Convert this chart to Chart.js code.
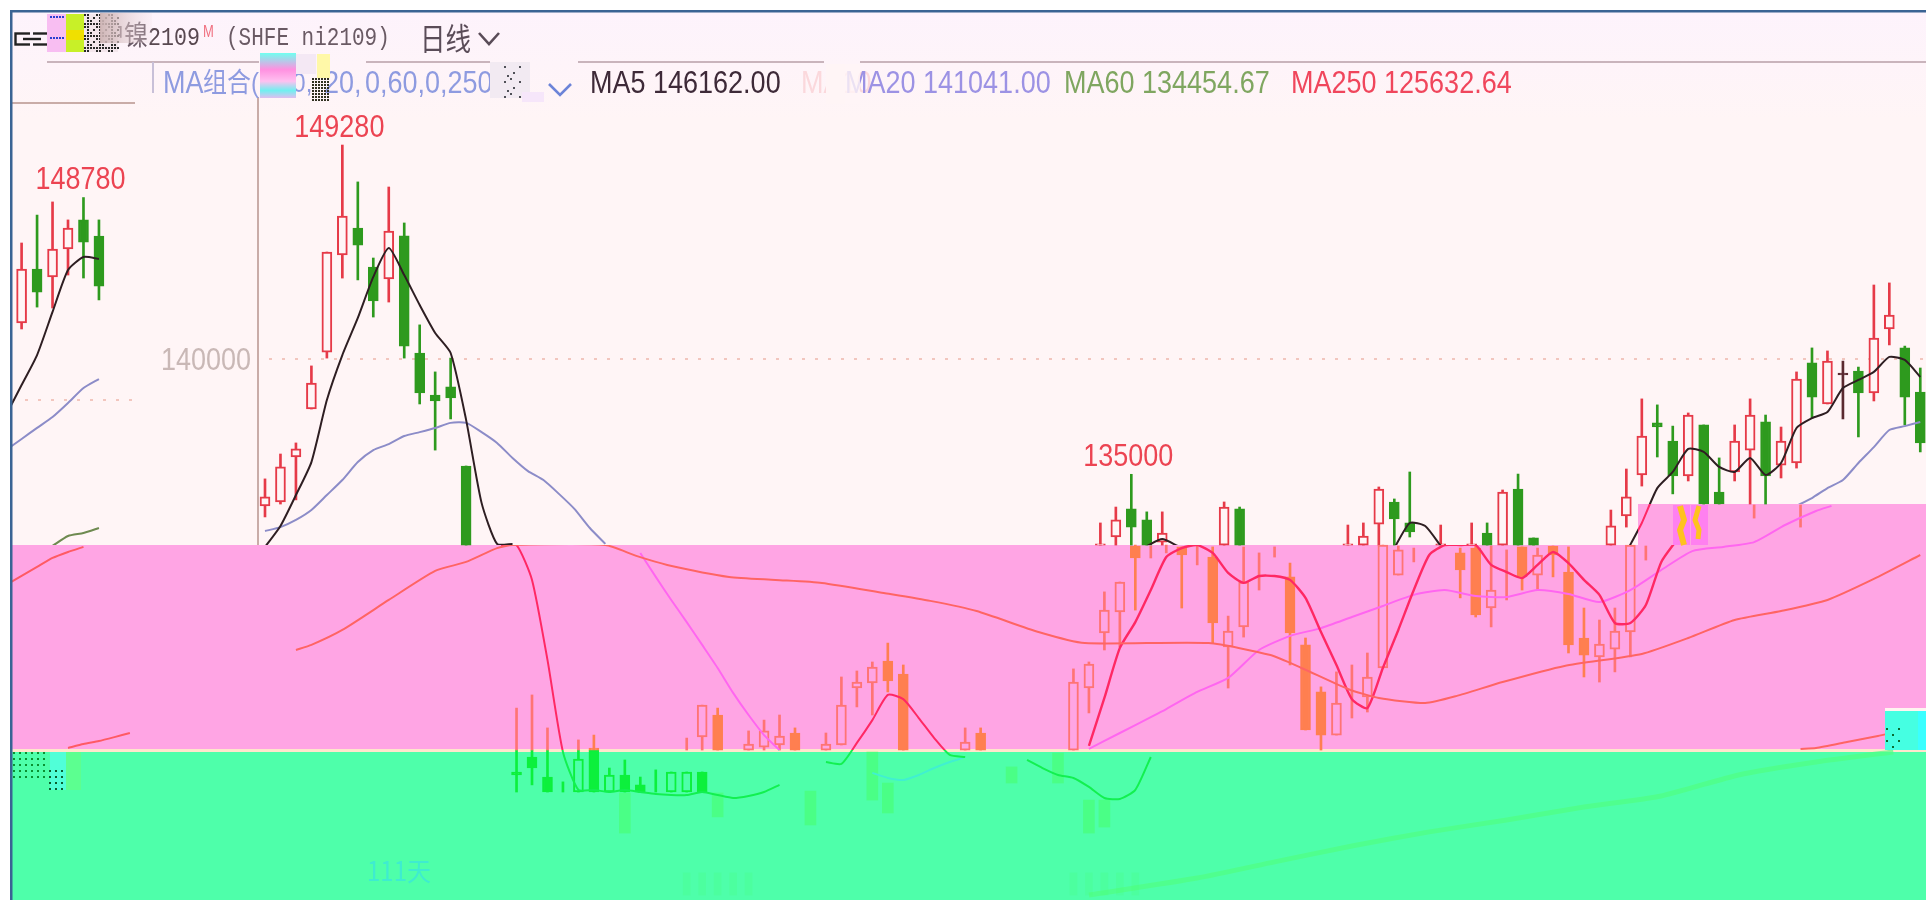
<!DOCTYPE html>
<html lang="zh"><head><meta charset="utf-8">
<style>html,body{margin:0;padding:0;background:#fff;overflow:hidden}canvas{display:block;filter:blur(.65px)}</style>
<script src="https://cdn.jsdelivr.net/npm/chart.js@4"></script>
</head><body><canvas id="c" width="1926" height="900"></canvas>
<script>
// ---------- candles in the upper price band (day slot, open, close, high, low)
const topSlots=[0,1,2,3,4,5,6,7,8,9,10,11,12,13,54,55,56,57,58,62,63,70,71,72,73,74,76,78,79,80,81,82,87,88,89,90,91,92,93,94,95,96,97,98,99,100,101,102,103,104,105,106,107];
const topOpen=[133630,133800,135750,137830,140300,144510,145680,143990,143470,145340,140260,138440,138790,135360,131930,132280,133500,133020,132060,131930,133500,131930,131930,132840,133800,132890,131930,131930,132450,131930,134360,132240,131930,133190,134970,137230,136440,134930,137140,134230,135100,136050,137270,135400,135490,139830,138050,139350,139480,138530,141300,140480,138570];
const topClose=[134020,135320,136100,138960,144640,146200,144940,142520,145550,140560,138530,138180,138310,131930,131980,133020,132710,131930,132450,133580,131930,131980,132320,134360,133060,132500,131980,131980,131930,134230,131930,131930,132760,134020,136660,137050,134930,137570,133710,133710,136440,137570,134930,136440,139130,138350,139910,139350,138530,140910,141910,138350,136360];
const topHigh=[134800,135880,136360,139700,144640,149280,147680,144380,147460,145900,141480,139440,140040,135360,132890,133580,135000,133370,133370,133800,133580,132800,132890,134450,133930,135100,132800,132890,132890,134320,135010,132240,133450,135230,138270,138010,137090,137660,137140,135710,137140,138270,137570,137050,139440,140480,140350,139910,139650,143210,143300,140560,139610];
const topLow=[133150,133710,133890,137830,140040,143510,143430,141820,142470,140040,138050,136050,137400,131930,131930,131930,131930,131930,131930,131930,131930,131930,131930,131930,131930,132280,131930,131930,131930,131930,131930,131930,131930,132710,134490,135750,134150,134710,133710,133710,134710,133710,133710,134840,135270,137440,138050,137400,136620,138180,140610,137140,135970];
// ---------- candles in the torn left pane
const leftSlots=[0,1,2,3,4,5];
const leftOpen=[143340,145680,145340,146550,147810,147110];
const leftClose=[145680,144680,146550,147460,146850,144940];
const leftHigh=[146810,148020,148590,147810,148780,147810];
const leftLow=[143080,144030,143990,145420,145290,144340];
// ---------- candles in the pink band
const pinkSlots=[16,17,18,20,21,27,28,29,31,32,33,34,36,37,38,39,40,41,45,46,52,53,54,55,56,57,58,59,60,61,62,63,64,65,66,67,68,69,70,71,72,73,74,77,78,79,80,81,82,83,84,85,86,87,88,89,96,99];
const pinkOpen=[123040,123040,123040,123040,123130,123040,123610,124560,123040,123170,123260,123780,123040,123260,125730,125950,126900,126340,123040,123780,123040,125730,128120,129030,131890,131370,131590,131850,131070,131410,127510,128380,129980,131410,130550,127600,125560,123690,124430,125340,126600,130630,131200,131590,131800,129200,129550,131850,130630,131890,130760,127900,127080,127420,128160,131280,133100,132710];
const pinkClose=[123040,123040,123040,123040,123040,123040,124990,123040,123300,123870,123650,123040,123300,124990,125990,126640,126040,123040,123390,123040,125990,126770,129110,130330,131370,131370,131590,131500,131070,128550,128200,130330,129980,131410,128120,123910,123690,125080,124430,126210,131930,131720,131200,130850,128900,129980,129550,130550,131500,131500,127600,127160,127640,128200,131930,131280,133100,132710];
const pinkHigh=[124860,125430,124000,123480,123690,123560,124990,124860,123870,124340,124560,124000,123780,126210,126470,126860,127680,126730,124000,124000,126560,126860,129900,130330,131930,131890,131930,131850,131890,131850,128850,131850,131590,131850,131150,127900,125780,126430,126730,127250,131930,131890,131800,131800,131930,131890,131720,131850,131800,131890,131850,129200,128680,129200,131930,131890,133670,133670];
const pinkLow=[123040,123040,123040,123040,123040,123040,123040,123040,123040,123040,123040,123040,123040,123260,124910,124560,125560,123040,123040,123040,123040,124650,127380,127510,129110,131370,131590,129200,131070,127680,125730,127940,129980,131410,126730,123910,123040,123690,124430,124690,126600,130630,131200,129640,128810,128380,129550,129980,129980,130550,127250,126210,125990,126430,127080,131280,133100,132710];
// ---------- candles in the green band
const greenSlots=[16,17,18,19,20,21,22,23,24,25,26,27,28];
const greenOpen=[122090,122740,121870,121220,121220,123040,121220,121960,121530,121220,121220,121220,122090];
const greenClose=[121960,122260,121220,121220,122650,121220,121960,121220,121220,121220,122090,122090,121220];
const greenHigh=[123040,123040,123040,121660,123040,123040,122260,122610,121870,122180,122090,122090,122090];
const greenLow=[121220,121530,121220,121220,121220,121220,121220,121220,121220,121220,121220,121220,121220];
const smearSlots=[23,29,35,39,40,48,51,53,54];
const smearHigh=[121180,121180,121260,122960,121610,122310,122910,120870,120870];
const smearLow=[119440,120140,119790,120870,120310,121610,121610,119440,119700];
const fadedSlots=[27,28,29,30,31,52,53,54,55,56];
const fadedHigh=[117710,117710,117710,117710,117710,117710,117710,117710,117710,117710];
const fadedLow=[116750,116750,116750,116750,116750,116750,116750,116750,116750,116750];
// ---------- moving averages
const ma5Slots=[0,1,2,3,4,5,6,7,8,9,10,11,12,13,14,15,16,17,57,58,59,60,73,74,75,76,77,88,89,90,91,92,93,94,95,96,97,98,99,100,101,102,103,104,105,106,107];
const ma5Values=[131850,132760,134100,135530,138220,140170,141780,143560,144810,143640,142340,141130,140260,137360,133760,131980,131980,null,131890,132190,131890,null,131800,132890,132760,131890,null,131630,132890,134400,135100,136100,135970,135320,135100,135710,134970,135490,137010,137440,137700,138740,139090,139440,140090,139960,139220];
const ma20Slots=[0,1,2,3,4,5,6,7,8,9,10,11,12,13,14,15,16,17,18,19,20,21,22,23,99,100,101,102,103,104,105,106,107];
const ma20Values=[132540,132710,133020,133450,134100,134750,135530,136050,136310,136660,136830,137010,137230,137230,136830,136360,135710,135140,134750,134150,133500,132670,131980,null,133630,133970,134400,134750,135490,136180,136920,137090,137270];
const leftMa5Slots=[-1,0,1,2,3,4,5];
const leftMa5Values=[139350,140650,141950,143820,145640,146200,146120];
const leftMa20Values=[137830,138310,138790,139260,139870,140520,140910];
const leftMa60Slots=[2,3,4,5];
const leftMa60Values=[133670,134100,134230,134450];
const leftMa250Slots=[-1,0,1,2,3,4,5,3,4,5,6,7];
const leftMa250Values=[131980,132370,132760,133150,133410,133630,null,124910,125080,125210,125380,125560];
const ma60LowSlots=[2,3,5,8,11,13,15,16,22,24,26,30,33,36,40,43,46,50,53,61,65,67,70,72,75,77,80,84,89,92,95,98,101,104,107];
const ma60LowValues=[127380,127600,128250,129550,130810,131200,131800,131930,131930,131460,131070,130550,130420,130290,129850,129510,129070,128160,127680,127680,127160,126600,125690,125300,125080,125380,125990,126690,127210,127900,128680,129070,129550,130460,131500];
const ma5LowSlotsA=[15,16,17,18,19,20,21,22,23,24,25,26,27,28,29,30,31,32,33,34,36,37,38,39,40,41,42,43,44,45,46,49,50,51,52,53,54,55,56,57];
const ma5LowValuesA=[131930,131930,130420,126950,122960,121310,121310,121220,121310,121220,121130,121090,121090,121220,121090,120960,121050,121220,121530,null,122520,122440,123350,124340,125430,125250,124430,123560,122830,122740,null,122610,122260,121960,121830,121440,120960,120920,121310,122740];
const ma5LowSlotsB=[53,54,55,56,57,58,59,60,61,62,63,64,65,66,67,68,69,70,71,72,73,74,75,76,77,78,79,80,81,82,83,84,85,86,87,88,89,90,91];
const ma5LowValuesB=[123220,125300,127470,128590,129980,131410,131800,131930,131590,130720,130290,130590,130590,130420,129640,128160,126730,125250,124860,126600,128250,129980,131500,131930,131930,131930,131070,130760,130500,131070,131630,131150,130420,129770,128550,128550,129330,131200,132150];
const ma20LowSlots=[24,25,26,27,28,29,30,31,32,33,34,39,40,41,42,43,44,45,46,53,55,57,58,60,62,64,66,68,70,72,74,76,78,80,82,84,86,88,90,92,94,96,98,100,101];
const ma20LowValues=[131590,130550,129550,128590,127600,126600,125520,124560,123690,123040,null,122050,121830,121740,121960,122260,122520,122740,null,123090,123780,124470,124820,125560,126170,127380,127990,128330,128810,129290,129770,129980,129720,129680,129980,129810,129460,129980,130850,131670,131850,132060,132800,133410,133630];
const ma250LowSlots=[99,100,102,104,105];
const ma250LowValues=[123090,123130,123390,123650,123800];
const ma250GreenSlots=[53,60,65,70,75,80,85,90,95,100,105];
const ma250GreenValues=[116750,117490,118190,118880,119490,120010,120570,121050,121960,122520,122960];
// ---------- text
const yTickValues=[140000];
const yTickLabels=['140000'];
const peakValues=[149280,135000];
const peakSlots=[5,56];
const leftPeakValue=148780;
const leftPeakSlot=4;
const legendItems=[['MA5','146162.00'],['MA20','141041.00'],['MA60','134454.67'],['MA250','125632.64']];

// ---------- palette
const BG='#FFF5F6',HEAD='#FDF3FC',PINK='#FFA5E4',MINT='#4EFFAA';
const W=1926,H=900;
const RISE='#E63A48',FALL='#2E9A1E',DOJI='#5A2A30';
const PRISE='#FF7474',PFALL='#FF7F50';
const GLINE='#12F050',GFALL='#0CF03C';

function paint(top,step,pink,green){
  const c=document.createElement('canvas');c.width=W;c.height=H;const x=c.getContext('2d');
  if(top){x.fillStyle=top;x.fillRect(0,0,W,545);}
  x.clearRect(1638,504,288,41);
  if(step){x.fillStyle=step;x.fillRect(1638,504,288,41);}
  if(pink){x.fillStyle=pink;x.fillRect(0,545,W,205);}
  if(green){x.fillStyle=green;x.fillRect(0,750,W,150);}
  return document.getElementById('c').getContext('2d').createPattern(c,'no-repeat');
}
function zip(s,v){return s.map((x,i)=>({x,y:v[i]}));}
function line(s,v,color,width,xa,ya,order){return{type:'line',data:zip(s,v),borderColor:color,borderWidth:width,pointRadius:0,tension:.2,spanGaps:false,xAxisID:xa,yAxisID:ya,order:order||1};}
function candles(s,o,c,h,l,xa,ya,rise,fall,fill,bw){
  const wicks=s.map((x,i)=>({x,y:[l[i],h[i]]}));
  const body=[],bodyFill=[],bodyLine=[],wc=[];
  s.forEach((x,i)=>{
    const up=c[i]>o[i],same=c[i]===o[i];
    wc.push(same&&o===topOpen?DOJI:(up||same?rise:fall));
    if(same){
      if(o===topOpen){body.push({x,y:[o[i]-40,o[i]+40]});bodyFill.push(DOJI);bodyLine.push(DOJI);}
      return;
    }
    body.push({x,y:[Math.min(o[i],c[i]),Math.max(o[i],c[i])]});
    bodyFill.push(up?fill:fall);bodyLine.push(up?rise:fall);
  });
  return[
   {type:'bar',data:body,backgroundColor:bodyFill,borderColor:bodyLine,borderWidth:2,borderSkipped:false,barThickness:bw,grouped:false,xAxisID:xa,yAxisID:ya,order:2},
   {type:'bar',data:wicks,backgroundColor:wc,borderWidth:0,barThickness:2,grouped:false,xAxisID:xa,yAxisID:ya,order:3}
  ];
}
function floats(s,hi,lo,color,th,xa,ya){return{type:'bar',data:s.map((x,i)=>({x,y:[lo[i],hi[i]]})),backgroundColor:color,borderWidth:0,barThickness:th,grouped:false,xAxisID:xa,yAxisID:ya,order:5};}

function label(ctx,t,x,y,font,color,sy,align){
  ctx.save();ctx.font=font;ctx.fillStyle=color;ctx.textAlign=align||'left';ctx.textBaseline='middle';
  ctx.translate(x,y);ctx.scale(1,sy||1);ctx.fillText(t,0,0);ctx.restore();
}
function noise(ctx,x,y,w,h,color,a,b){
  ctx.fillStyle=color;
  for(let j=0;j<h;j+=3)for(let i=0;i<w;i+=3){if((i*7+j*13+i*j)%(a||5)<(b||2))ctx.fillRect(x+i,y+j,2,2);}
}
const SANS='"Liberation Sans","Noto Sans CJK SC",sans-serif';
const MONO='"Liberation Mono","Noto Sans CJK SC",monospace';

const backdrop={id:'backdrop',beforeDatasetsDraw(ch){
  const c=ch.ctx;c.save();
  c.fillStyle='#fff';c.fillRect(0,0,W,H);
  c.fillStyle=BG;c.fillRect(10,10,W,H);
  const g=c.createLinearGradient(0,10,0,120);g.addColorStop(0,HEAD);g.addColorStop(1,BG);
  c.fillStyle=g;c.fillRect(10,10,W,110);
  c.fillStyle=PINK;c.fillRect(10,545,W,205);c.fillRect(1638,504,288,41);
  c.fillStyle=MINT;c.fillRect(10,750,W,150);
  c.fillStyle='#FFE6CC';c.fillRect(10,749,W,3);
  c.fillStyle='#FF80F0';c.fillRect(1673,505,17,40);c.fillRect(1691,505,17,40);
  c.fillStyle='#C9ACA8';
  c.fillRect(257,97,2,448);
  c.fillRect(10,102,125,2);
  c.fillStyle='#C9B4BC';
  c.fillRect(47,61,212,2);c.fillRect(366,61,124,2);c.fillRect(578,61,246,2);c.fillRect(860,61,W-860,2);
  c.fillStyle='#C8C0D8';c.fillRect(152,62,2,31);
  c.strokeStyle='#F2C6BE';c.lineWidth=2;c.setLineDash([3,10]);
  const ym=ch.scales.yMain.getPixelForValue(yTickValues[0]),yl=ch.scales.yLeft.getPixelForValue(yTickValues[0]);
  c.beginPath();c.moveTo(269,ym);c.lineTo(W,ym);c.moveTo(12,yl);c.lineTo(135,yl);c.stroke();
  c.restore();
}};
const overlay={id:'overlay',afterDatasetsDraw(ch){
  const c=ch.ctx;c.save();
  yTickLabels.forEach((t,i)=>label(c,t,251,ch.scales.yMain.getPixelForValue(yTickValues[i])+2,'27px '+SANS,'#C9B8B6',1.14,'right'));
  peakValues.forEach((v,i)=>label(c,String(v),ch.scales.xMain.getPixelForValue(peakSlots[i])-3,ch.scales.yMain.getPixelForValue(v)-17,'27px '+SANS,'#EC4452',1.14,'center'));
  label(c,String(leftPeakValue),ch.scales.xLeft.getPixelForValue(leftPeakSlot)-3,ch.scales.yLeft.getPixelForValue(leftPeakValue)-17,'27px '+SANS,'#EC4452',1.14,'center');
  label(c,'沪镍',100,38,'24px '+MONO,'#6A5A66',1.15);
  label(c,'2109',148,38,'21.6px '+MONO,'#584850',1.2);
  label(c,'M',203,33,'13px '+SANS,'#F07080',1.2);
  label(c,'(SHFE ni2109)',226,38,'21px '+MONO,'#6A5A64',1.2);
  label(c,'日线',420,38,'25.5px "Noto Sans CJK SC",sans-serif','#5A4C58',1.2);
  c.strokeStyle='#5A4C58';c.lineWidth=2.6;c.beginPath();c.moveTo(479,33);c.lineTo(489,44);c.lineTo(499,33);c.stroke();
  c.strokeStyle='#222';c.lineWidth=2.4;c.strokeRect(15.5,33.5,33,11);c.beginPath();c.moveTo(23,39);c.lineTo(41,39);c.stroke();
  c.fillStyle='#FDF3FC';c.fillRect(30,32,3,5);c.fillRect(30,42,3,4);
  const ROW=84.5;
  label(c,'MA',163,ROW,'27px '+SANS,'#8E9BE0',1.14);
  label(c,'组合(5,10,',203,ROW,'24px '+SANS,'#8E9BE0',1.14);
  label(c,'20,',324,ROW,'27px '+SANS,'#8E9BE0',1.14);
  label(c,'0,60,0,250',365,ROW,'27px '+SANS,'#8E9BE0',1.14);
  c.strokeStyle='#6C84D8';c.lineWidth=2.6;c.beginPath();c.moveTo(549,84);c.lineTo(560,95);c.lineTo(571,84);c.stroke();
  label(c,legendItems[0][0]+' '+legendItems[0][1],590,ROW,'27px '+SANS,'#3E2A38',1.14);
  label(c,'MA10',801,ROW,'27px '+SANS,'#FBD8DC',1.14);
  label(c,legendItems[1][0]+' '+legendItems[1][1],845,ROW,'27px '+SANS,'#9C92E4',1.14);
  c.fillStyle='#FFF5F6';c.fillRect(826,64,19,40);
  c.fillStyle='rgba(255,245,246,.8)';c.fillRect(845,64,15,40);
  label(c,legendItems[2][0]+' '+legendItems[2][1],1064,ROW,'27px '+SANS,'#7FA660',1.14);
  label(c,legendItems[3][0]+' '+legendItems[3][1],1291,ROW,'27px '+SANS,'#F0465C',1.14);
  c.fillStyle='#F8BEF2';c.fillRect(47,14,19,38);
  c.fillStyle='#C8F028';c.fillRect(66,14,18,38);
  c.fillStyle='#F0E000';c.fillRect(66,30,18,10);
  noise(c,50,16,14,34,'#2A40D0',7,1);
  c.fillStyle='#F4E6EC';c.fillRect(84,14,34,38);
  noise(c,84,14,34,38,'#2A2A2A',4,2);
  const gb=c.createLinearGradient(100,0,152,0);gb.addColorStop(0,'rgba(205,180,180,.95)');gb.addColorStop(1,'rgba(235,215,220,.15)');
  c.fillStyle=gb;c.fillRect(100,13,52,30);
  const b2=c.createLinearGradient(0,53,0,100);b2.addColorStop(0,'#70FFF0');b2.addColorStop(.35,'#FF90E0');b2.addColorStop(.6,'#FFC0F0');b2.addColorStop(.8,'#70F0F0');b2.addColorStop(1,'#FFB0F0');
  c.fillStyle=b2;c.fillRect(260,53,36,45);
  c.fillStyle='#FFF8A8';c.fillRect(317,54,13,24);
  c.fillStyle='#F4E8F4';c.fillRect(296,54,20,20);
  noise(c,312,78,18,22,'#303020',3,1);
  c.fillStyle='#F2EAF2';c.fillRect(490,62,40,36);
  noise(c,504,66,16,32,'#505058',5,1);
  c.fillStyle='#F6E6FA';c.fillRect(522,92,22,10);
  c.strokeStyle='#FFC21E';c.lineWidth=6;c.lineJoin='round';
  c.beginPath();c.moveTo(1680,506);c.lineTo(1684,520);c.lineTo(1680,530);c.lineTo(1684,545);c.stroke();
  c.lineWidth=5;c.beginPath();c.moveTo(1699,506);c.lineTo(1695,520);c.lineTo(1699,530);c.lineTo(1698,539);c.stroke();
  c.fillStyle='#50FFD8';c.fillRect(50,752,16,38);
  c.fillStyle='#5CFF90';c.fillRect(66,752,15,38);
  noise(c,13,752,34,26,'#0A9030',6,1);
  noise(c,49,770,15,20,'#0A6030',2,1);
  label(c,'111天',367,871,'24px "Noto Sans CJK SC",sans-serif','#3EECD0',1.1);
  c.fillStyle='#FFF4F0';c.fillRect(1885,708,W-1885,3);
  c.fillStyle='#45FFE2';c.fillRect(1885,711,W-1885,39);
  c.fillStyle='#3AFFFF';c.fillRect(1918,711,8,39);
  noise(c,1886,728,18,22,'#0A6A30',4,1);
  c.fillStyle='#fff';c.fillRect(0,0,10,H);c.fillRect(0,0,W,10);
  c.fillStyle='#3A6494';c.fillRect(10,10,W,2.5);c.fillRect(10,10,2.5,H);
  c.restore();
}};

const datasets=[
  line(ma5Slots,ma5Values,paint('#2E1E22','#FF2864',null,null),2,'xMain','yMain',1),
  line(ma20Slots,ma20Values,paint('#8C8CC8',null,null,null),2,'xMain','yMain',1),
  line(leftMa5Slots,leftMa5Values,paint('#2E1E22',null,null,null),2,'xLeft','yLeft',1),
  line(leftMa5Slots,leftMa20Values,paint('#8C8CC8',null,null,null),2,'xLeft','yLeft',1),
  line(leftMa60Slots,leftMa60Values,paint('#6E8A50',null,null,null),2,'xLeft','yLeft',1),
  line(leftMa250Slots,leftMa250Values,paint(null,null,'#FF5A64',null),2,'xLeft','yLeft',1),
  line(ma60LowSlots,ma60LowValues,paint(null,null,'#FF6464',null),2,'xMain','yMain',1),
  line(ma5LowSlotsA,ma5LowValuesA,paint(null,null,'#FF2864',GLINE),2,'xLow','yMain',1),
  line(ma5LowSlotsB,ma5LowValuesB,paint(null,null,'#FF2864',GLINE),2.4,'xLow','yMain',1),
  line(ma20LowSlots,ma20LowValues,paint(null,'#FF66F0','#FF66F0','#40F0D0'),2,'xLow','yMain',1),
  line(ma250LowSlots,ma250LowValues,paint(null,null,'#FF6464',null),2,'xLow','yMain',1),
  line(ma250GreenSlots,ma250GreenValues,paint(null,null,null,'rgba(80,255,130,.7)'),5,'xLow','yMain',6),
  ...candles(topSlots,topOpen,topClose,topHigh,topLow,'xMain','yMain',RISE,FALL,BG,10),
  ...candles(leftSlots,leftOpen,leftClose,leftHigh,leftLow,'xLeft','yLeft',RISE,FALL,BG,10),
  ...candles(pinkSlots,pinkOpen,pinkClose,pinkHigh,pinkLow,'xLow','yMain',PRISE,PFALL,PINK,10),
  ...candles(greenSlots,greenOpen,greenClose,greenHigh,greenLow,'xLow','yMain',GFALL,GFALL,MINT,10),
  floats(smearSlots,smearHigh,smearLow,'rgba(70,255,70,.35)',11,'xLow','yMain'),
  floats(fadedSlots,fadedHigh,fadedLow,'rgba(70,255,110,.18)',7,'xLow','yMain')
];
const hidden={display:false};
new Chart(document.getElementById('c'),{
  type:'bar',
  data:{datasets},
  options:{
    responsive:false,animation:false,events:[],
    layout:{padding:0},
    plugins:{legend:hidden,tooltip:{enabled:false},title:hidden},
    scales:{
      xMain:{type:'linear',axis:'x',display:false,offset:false,min:-17.13,max:107.37},
      xLeft:{type:'linear',axis:'x',display:false,offset:false,min:-1.396,max:123.1},
      xLow:{type:'linear',axis:'x',display:false,offset:false,min:-17.39,max:107.11},
      yMain:{type:'linear',axis:'y',display:false,min:116537,max:155570},
      yLeft:{type:'linear',axis:'y',display:false,min:118315,max:157348}
    }
  },
  plugins:[backdrop,overlay]
});
</script></body></html>
